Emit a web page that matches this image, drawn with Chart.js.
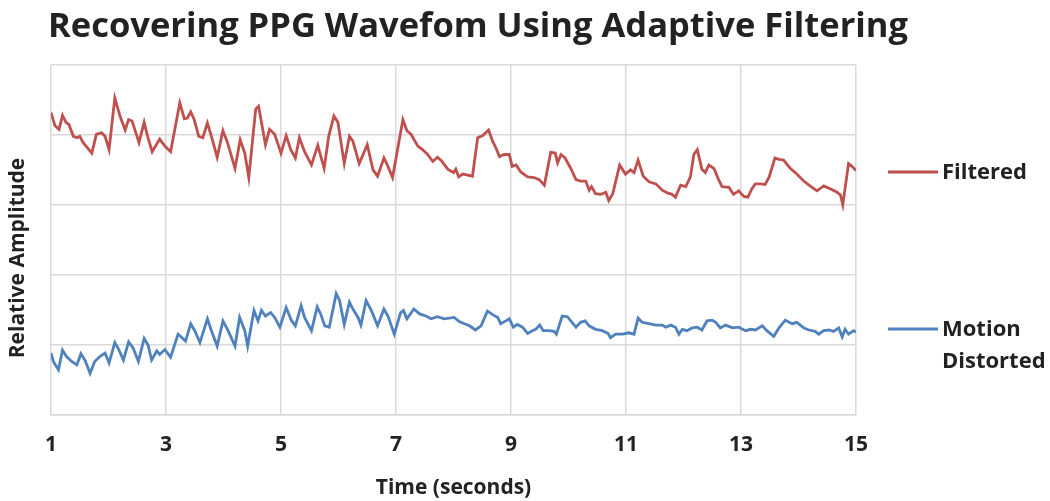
<!DOCTYPE html>
<html>
<head>
<meta charset="utf-8">
<script src="https://cdn.jsdelivr.net/npm/chart.js@4.4.1/dist/chart.umd.min.js"></script>
<style>
  html, body { margin: 0; padding: 0; background: #fff; }
  #wrap { width: 1050px; height: 501px; }
</style>
</head>
<body>
<div id="wrap"><canvas id="ppgchart" width="1050" height="501"></canvas></div>
<script>
var chartTitle = 'Recovering PPG Wavefom Using Adaptive Filtering';
var yTitle = 'Relative Amplitude';
var xTicks = [1, 3, 5, 7, 9, 11, 13, 15];

var filteredTime = [1.0, 1.07, 1.14, 1.2, 1.26, 1.31, 1.39, 1.45, 1.5, 1.56, 1.71, 1.79, 1.88, 1.94, 2.01, 2.11, 2.2, 2.29, 2.35, 2.41,
  2.53, 2.62, 2.68, 2.76, 2.89, 2.98, 3.08, 3.24, 3.32, 3.37, 3.43, 3.49, 3.57, 3.64, 3.72, 3.79, 3.89, 3.99, 4.07, 4.2,
  4.29, 4.37, 4.44, 4.56, 4.61, 4.66, 4.73, 4.8, 4.89, 5.0, 5.09, 5.17, 5.25, 5.32, 5.41, 5.53, 5.64, 5.75, 5.83, 5.92,
  5.99, 6.1, 6.19, 6.25, 6.36, 6.5, 6.6, 6.68, 6.79, 6.86, 6.94, 7.12, 7.19, 7.26, 7.38, 7.46, 7.55, 7.64, 7.72, 7.79,
  7.9, 8.0, 8.04, 8.09, 8.16, 8.23, 8.33, 8.42, 8.51, 8.61, 8.68, 8.74, 8.8, 8.88, 8.97, 9.02, 9.09, 9.17, 9.29, 9.4,
  9.49, 9.58, 9.69, 9.77, 9.81, 9.87, 9.94, 10.04, 10.13, 10.21, 10.3, 10.36, 10.4, 10.47, 10.56, 10.65, 10.7, 10.77, 10.89, 10.99,
  11.08, 11.14, 11.21, 11.3, 11.4, 11.52, 11.63, 11.72, 11.8, 11.86, 11.95, 12.04, 12.12, 12.18, 12.24, 12.32, 12.38, 12.44, 12.53, 12.6,
  12.67, 12.79, 12.87, 12.96, 13.05, 13.12, 13.19, 13.25, 13.34, 13.42, 13.49, 13.59, 13.66, 13.74, 13.86, 13.97, 14.09, 14.2, 14.32, 14.44,
  14.55, 14.67, 14.73, 14.77, 14.87, 14.93, 15.0];
var filteredAmp = [4.32, 4.13, 4.08, 4.28, 4.18, 4.15, 3.98, 3.96, 3.98, 3.89, 3.74, 4.01, 4.03, 3.98, 3.79, 4.53, 4.27, 4.07, 4.22, 4.2,
  3.89, 4.18, 3.98, 3.76, 3.94, 3.84, 3.76, 4.46, 4.23, 4.24, 4.33, 4.22, 3.98, 3.96, 4.17, 3.98, 3.68, 4.06, 3.89, 3.52,
  3.93, 3.74, 3.39, 4.37, 4.41, 4.18, 3.86, 4.08, 4.01, 3.74, 3.99, 3.79, 3.67, 3.96, 3.76, 3.57, 3.85, 3.52, 3.98, 4.27,
  4.18, 3.59, 3.98, 3.91, 3.59, 3.86, 3.5, 3.41, 3.67, 3.55, 3.39, 4.22, 4.06, 4.01, 3.84, 3.79, 3.72, 3.62, 3.68, 3.63,
  3.51, 3.46, 3.51, 3.4, 3.44, 3.43, 3.41, 3.96, 3.99, 4.07, 3.91, 3.81, 3.69, 3.72, 3.72, 3.55, 3.57, 3.47, 3.4, 3.39,
  3.36, 3.28, 3.75, 3.74, 3.6, 3.72, 3.67, 3.52, 3.36, 3.34, 3.34, 3.21, 3.26, 3.16, 3.15, 3.18, 3.06, 3.16, 3.57, 3.44,
  3.5, 3.46, 3.64, 3.41, 3.33, 3.3, 3.21, 3.17, 3.15, 3.11, 3.28, 3.26, 3.4, 3.72, 3.79, 3.51, 3.46, 3.57, 3.52, 3.38,
  3.26, 3.25, 3.15, 3.2, 3.12, 3.11, 3.23, 3.3, 3.3, 3.29, 3.4, 3.67, 3.65, 3.64, 3.52, 3.44, 3.34, 3.27, 3.2, 3.27,
  3.23, 3.18, 3.14, 3.0, 3.59, 3.55, 3.49];

var motionTime = [1.0, 1.04, 1.13, 1.2, 1.27, 1.36, 1.45, 1.52, 1.59, 1.68, 1.76, 1.85, 1.94, 2.01, 2.11, 2.18, 2.26, 2.35, 2.43, 2.52,
  2.62, 2.69, 2.75, 2.84, 2.89, 2.98, 3.08, 3.21, 3.28, 3.34, 3.43, 3.5, 3.59, 3.72, 3.79, 3.89, 3.99, 4.08, 4.2, 4.28,
  4.37, 4.42, 4.53, 4.6, 4.66, 4.73, 4.82, 4.89, 4.98, 5.09, 5.18, 5.25, 5.35, 5.41, 5.53, 5.63, 5.69, 5.76, 5.84, 5.96,
  6.02, 6.1, 6.19, 6.25, 6.34, 6.39, 6.48, 6.57, 6.68, 6.79, 6.86, 6.97, 7.08, 7.13, 7.19, 7.31, 7.41, 7.52, 7.61, 7.72,
  7.84, 8.01, 8.1, 8.19, 8.28, 8.38, 8.48, 8.59, 8.68, 8.77, 8.82, 8.91, 8.97, 9.04, 9.11, 9.2, 9.29, 9.37, 9.43, 9.5,
  9.56, 9.66, 9.75, 9.79, 9.89, 9.98, 10.04, 10.13, 10.21, 10.29, 10.36, 10.47, 10.59, 10.69, 10.73, 10.82, 10.94, 11.05, 11.14, 11.21,
  11.28, 11.4, 11.52, 11.63, 11.69, 11.78, 11.86, 11.92, 11.98, 12.06, 12.15, 12.24, 12.32, 12.41, 12.5, 12.56, 12.64, 12.73, 12.85, 12.96,
  13.08, 13.17, 13.25, 13.37, 13.45, 13.57, 13.66, 13.77, 13.89, 13.97, 14.09, 14.18, 14.29, 14.35, 14.44, 14.53, 14.61, 14.7, 14.76, 14.81,
  14.87, 14.96, 15.0];
var motionAmp = [0.88, 0.76, 0.64, 0.92, 0.83, 0.76, 0.71, 0.87, 0.78, 0.59, 0.76, 0.83, 0.88, 0.74, 1.03, 0.93, 0.78, 1.04, 0.95, 0.76,
  1.09, 0.99, 0.78, 0.91, 0.86, 0.93, 0.82, 1.15, 1.1, 1.05, 1.3, 1.2, 1.03, 1.37, 1.2, 0.98, 1.34, 1.2, 0.98, 1.39,
  1.2, 0.98, 1.49, 1.34, 1.49, 1.41, 1.46, 1.39, 1.25, 1.53, 1.35, 1.27, 1.56, 1.39, 1.2, 1.54, 1.44, 1.27, 1.25, 1.73,
  1.63, 1.29, 1.61, 1.51, 1.39, 1.28, 1.63, 1.49, 1.27, 1.51, 1.41, 1.15, 1.46, 1.49, 1.37, 1.51, 1.44, 1.41, 1.37, 1.4,
  1.37, 1.39, 1.33, 1.3, 1.27, 1.21, 1.27, 1.48, 1.43, 1.39, 1.3, 1.34, 1.37, 1.25, 1.29, 1.25, 1.16, 1.2, 1.22, 1.28,
  1.2, 1.2, 1.19, 1.15, 1.41, 1.4, 1.34, 1.25, 1.32, 1.34, 1.27, 1.22, 1.2, 1.16, 1.1, 1.15, 1.15, 1.17, 1.15, 1.38,
  1.32, 1.3, 1.28, 1.28, 1.25, 1.28, 1.25, 1.15, 1.22, 1.2, 1.24, 1.25, 1.21, 1.34, 1.35, 1.32, 1.24, 1.28, 1.24, 1.25,
  1.2, 1.22, 1.21, 1.27, 1.2, 1.12, 1.24, 1.35, 1.3, 1.32, 1.24, 1.21, 1.19, 1.15, 1.2, 1.21, 1.19, 1.24, 1.11, 1.22,
  1.15, 1.2, 1.18];

function toPoints(xs, ys) {
  return xs.map(function (x, i) { return { x: x, y: ys[i] }; });
}

var textColor = '#222222';
var gridColor = '#d9d9d9';
var labelFont = { family: 'Open Sans', size: 21, weight: 'bold' };

// title, y-axis title and the right-hand legend are drawn by hand to match the Excel layout
var sideText = {
  id: 'sideText',
  afterDraw: function (chart) {
    var ctx = chart.ctx;
    ctx.save();
    ctx.fillStyle = textColor;
    ctx.textBaseline = 'middle';
    ctx.textAlign = 'left';
    ctx.font = 'bold 34.5px "Open Sans"';
    ctx.fillText(chartTitle, 48, 27);

    ctx.font = 'bold 21px "Open Sans"';
    ctx.save();
    ctx.translate(18, 258);
    ctx.rotate(-Math.PI / 2);
    ctx.textAlign = 'center';
    ctx.fillText(yTitle, 0, 0);
    ctx.restore();

    ctx.font = 'bold 22px "Open Sans"';
    var ds = chart.data.datasets;
    var rows = [[172], [329, 361]];
    ds.forEach(function (d, i) {
      var y0 = rows[i][0];
      ctx.strokeStyle = d.borderColor;
      ctx.lineWidth = 3;
      ctx.beginPath();
      ctx.moveTo(888, y0);
      ctx.lineTo(938, y0);
      ctx.stroke();
      var words = d.label.split(' ');
      words.forEach(function (w, k) {
        ctx.fillText(w, 942, rows[i][k] + 1);
      });
    });
    ctx.restore();
  }
};

new Chart(document.getElementById('ppgchart'), {
  type: 'line',
  data: {
    datasets: [{
      label: 'Filtered',
      data: toPoints(filteredTime, filteredAmp),
      borderColor: '#c0504d',
      borderWidth: 2.8,
      pointRadius: 0,
      fill: false,
      tension: 0
    }, {
      label: 'Motion Distorted',
      data: toPoints(motionTime, motionAmp),
      borderColor: '#4f81bd',
      borderWidth: 2.8,
      pointRadius: 0,
      fill: false,
      tension: 0
    }]
  },
  options: {
    responsive: false,
    animation: false,
    layout: {
      padding: { top: 65, right: 194, left: 51, bottom: 0 }
    },
    plugins: {
      legend: { display: false },
      title: { display: false },
      tooltip: { enabled: false }
    },
    scales: {
      x: {
        type: 'linear',
        min: 1,
        max: 15,
        afterBuildTicks: function (axis) {
          axis.ticks = xTicks.map(function (v) { return { value: v }; });
        },
        grid: { color: gridColor, lineWidth: 1.5, drawTicks: false },
        border: { color: gridColor, width: 1.5 },
        ticks: {
          color: textColor,
          font: labelFont,
          padding: 18,
          maxRotation: 0
        },
        title: {
          display: true,
          text: 'Time (seconds)',
          color: textColor,
          font: labelFont,
          padding: { top: 0, bottom: 0 }
        }
      },
      y: {
        min: 0,
        max: 5,
        ticks: { display: false, stepSize: 1 },
        grid: { color: gridColor, lineWidth: 1.5, drawTicks: false },
        border: { display: false }
      }
    }
  },
  plugins: [sideText]
});
</script>
</body>
</html>
